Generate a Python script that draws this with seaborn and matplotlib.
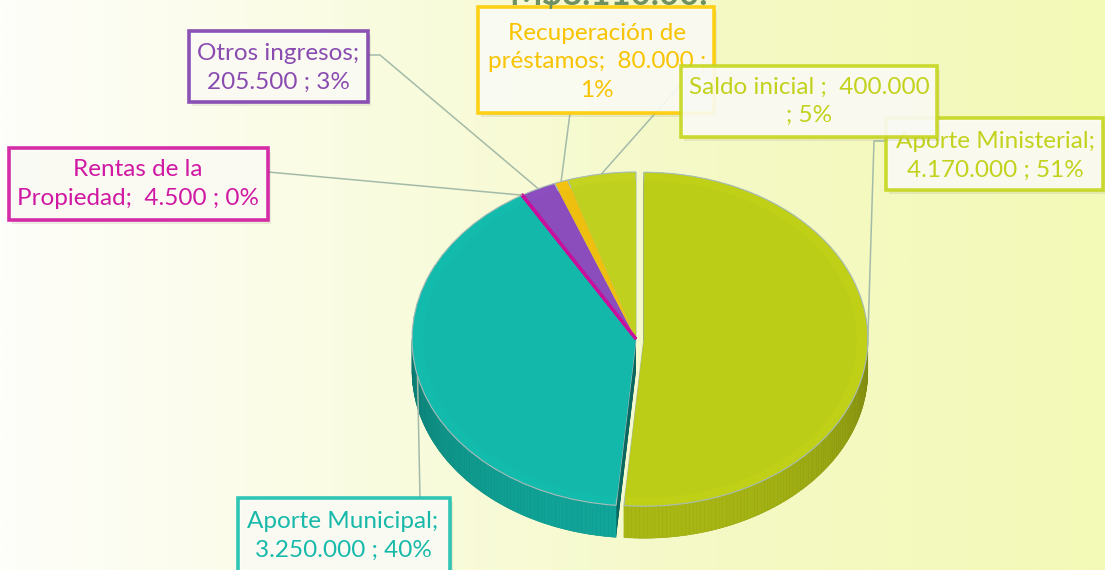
import numpy as np
import matplotlib
matplotlib.use("Agg")
import matplotlib.pyplot as plt
import seaborn as sns
from matplotlib.patches import Rectangle
from matplotlib.collections import PolyCollection
from matplotlib.colors import LinearSegmentedColormap, to_rgb

# ---- data -------------------------------------------------------------
categories = ["Aporte Ministerial", "Aporte Municipal", "Rentas de la Propiedad",
              "Otros ingresos", "Recuperación de préstamos", "Saldo inicial"]
amounts = [4170000, 3250000, 4500, 205500, 80000, 400000]
label_templates = [
    "Aporte Ministerial;\n{v} ; {p}%",
    "Aporte Municipal;\n{v} ; {p}%",
    "Rentas de la\nPropiedad;  {v} ; {p}%",
    "Otros ingresos;\n{v} ; {p}%",
    "Recuperación de\npréstamos;  {v} ;\n{p}%",
    "Saldo inicial ;  {v}\n; {p}%",
]
title_text = "M$8.110.00."

# ---- style ------------------------------------------------------------
slice_colors = ["#BFD017", "#13BBAD", "#C8109C", "#8C4EBE", "#F3C210", "#C3D31F"]
text_colors = ["#C2D21D", "#17BAAA", "#D018A3", "#8A4BB0", "#F8C300", "#C2D21D"]
border_colors = ["#C6D61E", "#19C0B0", "#D0169F", "#7E3FAE", "#FFCC00", "#C6D61E"]
explode = [0.035, 0, 0, 0, 0, 0]

sns.set_theme(style="white")
plt.rcParams["font.family"] = ["Lato", "DejaVu Sans"]

W, H = 1105, 570
fig = plt.figure(figsize=(W / 100, H / 100), dpi=100)

# background wash, white on the left to pale yellow on the right
ax_bg = fig.add_axes([0, 0, 1, 1], zorder=0)
bg_cmap = LinearSegmentedColormap.from_list(
    "bg", [(0, "#FEFEFA"), (0.3, "#FAFCE3"), (0.65, "#F5F9C5"), (1, "#F3F9B7")])
ax_bg.imshow(np.linspace(0, 1, 512)[None, :], cmap=bg_cmap, aspect="auto",
             extent=[0, 1, 0, 1])
ax_bg.set_axis_off()

# ---- pie geometry (unit radius, squashed into an ellipse) -------------
cx, cy, rx, ry, depth_px = 636, 339, 224, 167, 32
depth = depth_px / ry
ax = fig.add_axes([0, 0, 1, 1], zorder=1)
ax.patch.set_alpha(0)

total = sum(amounts)
fracs = np.array(amounts) / total
bounds = np.concatenate([[0], np.cumsum(fracs)]) * 360.0  # clockwise from top


def darker(c, f):
    r, g, b = to_rgb(c)
    return (r * f, g * f, b * f)


pie_kw = dict(startangle=90, counterclock=False, explode=explode, radius=1)

# body of the pie: stacked layers give the cut faces and the thickness
n_layers = 26
for k in range(n_layers):
    off = -depth * (1 - k / (n_layers - 1))
    ax.pie(amounts, center=(0, off),
           colors=[darker(c, 0.55) for c in slice_colors],
           wedgeprops=dict(linewidth=0, zorder=1), **pie_kw)

# shaded outer rim on the front half
polys, pcols = [], []
for i, c in enumerate(slice_colors):
    a0, a1 = bounds[i], bounds[i + 1]
    am = np.radians(0.5 * (a0 + a1))
    ex, ey = explode[i] * np.sin(am), explode[i] * np.cos(am)
    lo, hi = max(a0, 90.0), min(a1, 270.0)
    if hi <= lo:
        continue
    angs = np.linspace(lo, hi, max(2, int((hi - lo) / 1.0) + 2))
    for t0, t1 in zip(angs[:-1], angs[1:]):
        p0 = (np.sin(np.radians(t0)) + ex, np.cos(np.radians(t0)) + ey)
        p1 = (np.sin(np.radians(t1)) + ex, np.cos(np.radians(t1)) + ey)
        polys.append([p0, p1, (p1[0], p1[1] - depth), (p0[0], p0[1] - depth)])
        tm = np.radians(0.5 * (t0 + t1))
        shade = 0.62 + 0.26 * max(0.0, -np.cos(tm)) ** 0.7
        pcols.append(darker(c, shade))
ax.add_collection(PolyCollection(polys, facecolors=pcols, edgecolors=pcols,
                                 linewidths=0.3, zorder=2))

# top face
top_wedges, _ = ax.pie(amounts, center=(0, 0), colors=slice_colors,
                       wedgeprops=dict(linewidth=0.8, edgecolor="#A9BDB9",
                                       zorder=3), **pie_kw)
ax.pie(amounts, center=(0, 0), radius=0.95, startangle=90, counterclock=False,
       explode=explode, colors=[darker(c, 0.985) for c in slice_colors],
       wedgeprops=dict(linewidth=0, zorder=3.5))
# the tiny "Rentas" slice keeps an outline in its own colour so it stays visible
top_wedges[2].set_edgecolor(slice_colors[2])
top_wedges[2].set_linewidth(2.2)
top_wedges[2].set_zorder(3.6)

ax.set_aspect("auto")
ax.set_xlim(-cx / rx, (W - cx) / rx)
ax.set_ylim((cy - H) / ry, cy / ry)
ax.set_axis_off()

# ---- labels, leader lines, title (pixel coordinates) -----------------
lab = fig.add_axes([0, 0, 1, 1], zorder=2)
lab.set_xlim(0, W)
lab.set_ylim(H, 0)
lab.set_axis_off()
lab.patch.set_alpha(0)


def fmt_thousands(v):
    return f"{v:,}".replace(",", ".")


def anchor(i):
    am = np.radians(0.5 * (bounds[i] + bounds[i + 1]))
    x = (1 + explode[i]) * np.sin(am)
    y = (1 + explode[i]) * np.cos(am)
    return cx + rx * x, cy - ry * y


# box: (x0, y0, x1, y1), text centre, leader path from the box
boxes = {
    0: ((886, 118, 1103, 190), (995, 156), [(886, 141), (874, 141)]),
    4: ((478, 7, 714, 113), (597, 62), [(570, 113)]),
    5: ((681, 66, 937, 137), (809, 101), [(690, 74)]),
    3: ((189, 31, 368, 102), (278, 68), [(368, 55), (380, 55)]),
    2: ((9, 148, 268, 220), (138, 184), [(268, 172)]),
    1: ((238, 498, 450, 580), (343, 536), [(420, 498)]),
}

line_col = "#A3BBA8"
for i, (_, _, path) in boxes.items():
    ax_pt = anchor(i)
    xs = [p[0] for p in path] + [ax_pt[0]]
    ys = [p[1] for p in path] + [ax_pt[1]]
    lab.plot(xs, ys, color=line_col, lw=1.1, zorder=1, solid_capstyle="butt")

z = 2
for i in [0, 4, 5, 3, 2, 1]:
    (x0, y0, x1, y1), (tx, ty), _ = boxes[i]
    lab.add_patch(Rectangle((x0 + 3, y0 + 4), x1 - x0, y1 - y0,
                            facecolor="#7A7A60", alpha=0.13, lw=0, zorder=z))
    lab.add_patch(Rectangle((x0, y0), x1 - x0, y1 - y0, facecolor="#FCFCF6",
                            alpha=0.9, edgecolor=border_colors[i], lw=2.6,
                            zorder=z + 0.1))
    pct = round(fracs[i] * 100)
    txt = label_templates[i].format(v=fmt_thousands(amounts[i]), p=pct)
    lab.text(tx, ty, txt, ha="center", va="center", fontsize=17.5,
             color=text_colors[i], linespacing=1.42, zorder=z + 0.2)
    z += 1

lab.text(608, 5, title_text, ha="center", va="baseline", fontsize=25,
         fontweight="bold", color="#6E8F60", zorder=z)

fig.savefig("out.png", dpi=100)
